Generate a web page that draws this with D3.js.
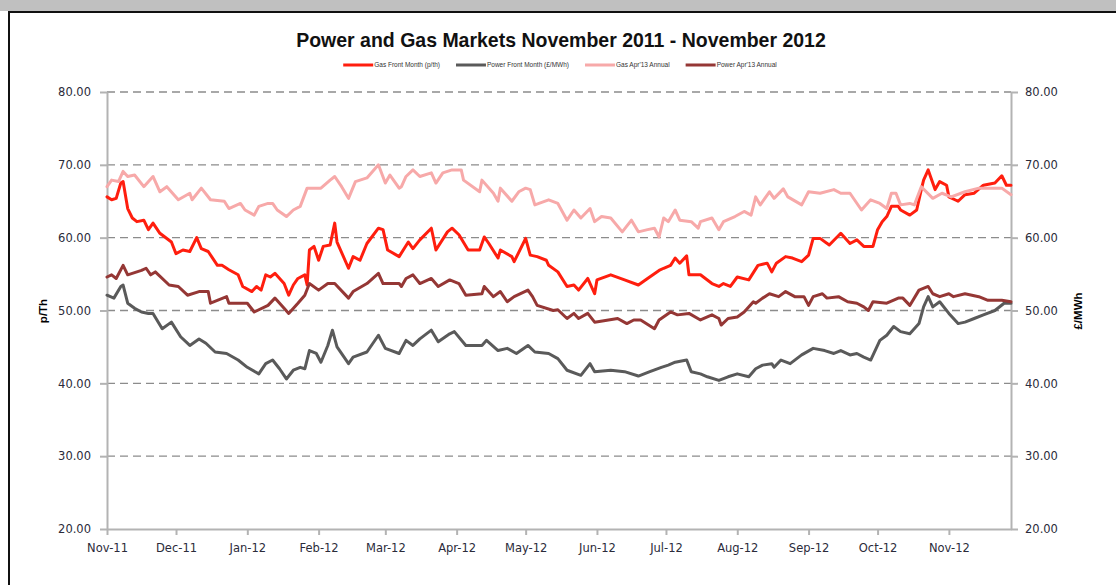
<!DOCTYPE html>
<html>
<head>
<meta charset="utf-8">
<script src="https://cdn.jsdelivr.net/npm/d3@7/dist/d3.min.js"></script>
<style>
    body { margin: 0; background: #fff; }
    svg { display: block; }
    .axis path, .axis line { stroke: #b3b3b3; stroke-width: 2; }
    .axis text { font-family: 'DejaVu Sans', Verdana, sans-serif; font-size: 11.5px; fill: #2b2b3a; }
    .grid line { stroke: #8c8c8c; stroke-width: 1.3; stroke-dasharray: 8 5; }
    .line { fill: none; stroke-width: 3; stroke-linejoin: round; stroke-linecap: round; }
</style>
</head>
<body>
<div id="chart"></div>
<script>
// values: [date, value]
const gasFrontMonth = [
    ['2011-11-01', 65.6], ['2011-11-03', 65.2], ['2011-11-05', 65.4], ['2011-11-07', 67.5], ['2011-11-08', 67.7],
    ['2011-11-10', 64.0], ['2011-11-12', 62.7], ['2011-11-14', 62.2], ['2011-11-17', 62.4], ['2011-11-19', 61.1],
    ['2011-11-21', 62.0], ['2011-11-24', 60.6], ['2011-11-29', 59.4], ['2011-12-01', 57.8], ['2011-12-04', 58.3],
    ['2011-12-07', 58.1], ['2011-12-10', 60.0], ['2011-12-12', 58.5], ['2011-12-15', 58.1], ['2011-12-19', 56.2],
    ['2011-12-21', 56.2], ['2011-12-24', 55.6], ['2011-12-28', 54.9], ['2011-12-30', 53.3], ['2012-01-03', 52.6],
    ['2012-01-05', 53.3], ['2012-01-07', 52.8], ['2012-01-09', 54.9], ['2012-01-11', 54.6], ['2012-01-13', 55.1],
    ['2012-01-17', 53.7], ['2012-01-19', 52.1], ['2012-01-21', 53.5], ['2012-01-23', 54.4], ['2012-01-26', 54.9],
    ['2012-01-27', 53.5], ['2012-01-28', 58.3], ['2012-01-30', 58.8], ['2012-02-01', 56.9], ['2012-02-03', 58.8],
    ['2012-02-06', 59.0], ['2012-02-08', 62.0], ['2012-02-09', 59.4], ['2012-02-14', 55.8], ['2012-02-16', 57.4],
    ['2012-02-19', 56.9], ['2012-02-22', 59.2], ['2012-02-27', 61.3], ['2012-02-29', 61.1], ['2012-03-02', 58.3],
    ['2012-03-07', 57.4], ['2012-03-11', 59.4], ['2012-03-13', 58.5], ['2012-03-16', 59.7], ['2012-03-21', 61.3],
    ['2012-03-23', 58.3], ['2012-03-28', 60.8], ['2012-03-30', 61.3], ['2012-04-02', 60.4], ['2012-04-06', 58.3],
    ['2012-04-11', 58.3], ['2012-04-13', 60.1], ['2012-04-15', 59.2], ['2012-04-19', 57.2], ['2012-04-20', 58.3],
    ['2012-04-25', 57.4], ['2012-04-26', 56.7], ['2012-05-01', 59.9], ['2012-05-03', 57.6], ['2012-05-06', 57.4],
    ['2012-05-10', 56.9], ['2012-05-11', 56.2], ['2012-05-15', 55.3], ['2012-05-19', 53.3], ['2012-05-22', 53.5],
    ['2012-05-24', 52.8], ['2012-05-28', 54.4], ['2012-05-31', 52.3], ['2012-06-01', 54.2], ['2012-06-07', 54.9],
    ['2012-06-13', 54.2], ['2012-06-19', 53.5], ['2012-06-23', 54.4], ['2012-06-28', 55.5], ['2012-06-30', 55.8],
    ['2012-07-03', 56.2], ['2012-07-05', 57.2], ['2012-07-07', 56.5], ['2012-07-10', 57.5], ['2012-07-11', 54.9],
    ['2012-07-16', 54.9], ['2012-07-21', 53.7], ['2012-07-24', 53.3], ['2012-07-26', 53.7], ['2012-07-29', 53.3],
    ['2012-08-01', 54.6], ['2012-08-06', 54.2], ['2012-08-10', 56.2], ['2012-08-14', 56.5], ['2012-08-16', 55.3],
    ['2012-08-18', 56.5], ['2012-08-22', 57.4], ['2012-08-25', 57.2], ['2012-08-29', 56.7], ['2012-09-01', 57.6],
    ['2012-09-03', 59.9], ['2012-09-06', 59.9], ['2012-09-10', 59.0], ['2012-09-15', 60.6], ['2012-09-19', 59.2],
    ['2012-09-22', 59.7], ['2012-09-25', 58.8], ['2012-09-29', 58.8], ['2012-10-01', 61.1], ['2012-10-03', 62.2],
    ['2012-10-05', 62.9], ['2012-10-07', 64.3], ['2012-10-10', 64.3], ['2012-10-11', 63.8], ['2012-10-15', 63.1],
    ['2012-10-18', 63.8], ['2012-10-20', 66.6], ['2012-10-21', 67.9], ['2012-10-23', 69.3], ['2012-10-25', 67.5],
    ['2012-10-26', 66.6], ['2012-10-28', 67.7], ['2012-10-31', 67.2], ['2012-11-01', 65.6], ['2012-11-05', 65.0],
    ['2012-11-08', 65.9], ['2012-11-12', 66.1], ['2012-11-16', 67.2], ['2012-11-21', 67.5], ['2012-11-24', 68.5],
    ['2012-11-26', 67.2], ['2012-11-28', 67.2]
];

const powerFrontMonth = [
    ['2011-11-01', 52.1], ['2011-11-04', 51.7], ['2011-11-07', 53.3], ['2011-11-08', 53.5], ['2011-11-10', 51.0],
    ['2011-11-13', 50.3], ['2011-11-16', 49.8], ['2011-11-19', 49.6], ['2011-11-21', 49.6], ['2011-11-25', 47.5],
    ['2011-11-29', 48.4], ['2011-12-03', 46.4], ['2011-12-07', 45.2], ['2011-12-11', 46.1], ['2011-12-14', 45.5],
    ['2011-12-18', 44.3], ['2011-12-23', 44.1], ['2011-12-28', 43.2], ['2012-01-01', 42.2], ['2012-01-06', 41.3],
    ['2012-01-09', 42.7], ['2012-01-12', 43.2], ['2012-01-15', 42.0], ['2012-01-18', 40.6], ['2012-01-21', 41.8],
    ['2012-01-24', 42.2], ['2012-01-26', 42.0], ['2012-01-28', 44.5], ['2012-01-31', 44.1], ['2012-02-02', 42.9],
    ['2012-02-05', 45.2], ['2012-02-07', 47.3], ['2012-02-09', 45.0], ['2012-02-14', 42.7], ['2012-02-16', 43.6],
    ['2012-02-22', 44.3], ['2012-02-27', 46.6], ['2012-03-01', 44.8], ['2012-03-07', 44.1], ['2012-03-10', 45.9],
    ['2012-03-13', 45.2], ['2012-03-16', 46.1], ['2012-03-21', 47.3], ['2012-03-24', 45.7], ['2012-03-29', 46.8],
    ['2012-03-31', 47.1], ['2012-04-05', 45.2], ['2012-04-12', 45.2], ['2012-04-14', 45.9], ['2012-04-19', 44.5],
    ['2012-04-23', 44.8], ['2012-04-27', 44.1], ['2012-05-02', 45.2], ['2012-05-05', 44.3], ['2012-05-11', 44.1],
    ['2012-05-15', 43.4], ['2012-05-19', 41.8], ['2012-05-25', 41.1], ['2012-05-29', 42.7], ['2012-05-31', 41.6],
    ['2012-06-07', 41.8], ['2012-06-13', 41.6], ['2012-06-19', 41.0], ['2012-06-24', 41.6], ['2012-06-29', 42.2],
    ['2012-07-02', 42.5], ['2012-07-05', 42.9], ['2012-07-10', 43.2], ['2012-07-12', 41.6], ['2012-07-16', 41.3],
    ['2012-07-19', 40.9], ['2012-07-24', 40.4], ['2012-07-28', 40.9], ['2012-08-01', 41.3], ['2012-08-06', 40.9],
    ['2012-08-09', 42.0], ['2012-08-12', 42.5], ['2012-08-16', 42.7], ['2012-08-17', 42.2], ['2012-08-20', 43.2],
    ['2012-08-24', 42.7], ['2012-08-29', 43.9], ['2012-09-03', 44.8], ['2012-09-08', 44.5], ['2012-09-12', 44.1],
    ['2012-09-15', 44.5], ['2012-09-19', 43.9], ['2012-09-22', 44.1], ['2012-09-25', 43.6], ['2012-09-28', 43.2],
    ['2012-10-02', 45.9], ['2012-10-05', 46.6], ['2012-10-08', 47.8], ['2012-10-11', 47.1], ['2012-10-15', 46.8],
    ['2012-10-19', 48.2], ['2012-10-21', 50.5], ['2012-10-23', 51.9], ['2012-10-25', 50.5], ['2012-10-28', 51.2],
    ['2012-11-01', 49.6], ['2012-11-05', 48.2], ['2012-11-08', 48.4], ['2012-11-12', 48.9], ['2012-11-16', 49.4],
    ['2012-11-21', 50.0], ['2012-11-25', 51.0], ['2012-11-28', 51.0]
];

const gasAnnual = [
    ['2011-11-01', 67.0], ['2011-11-03', 67.9], ['2011-11-06', 67.7], ['2011-11-08', 69.1], ['2011-11-10', 68.4],
    ['2011-11-13', 68.6], ['2011-11-17', 67.0], ['2011-11-21', 68.4], ['2011-11-24', 66.3], ['2011-11-27', 67.0],
    ['2011-12-02', 65.2], ['2011-12-07', 66.1], ['2011-12-08', 65.2], ['2011-12-12', 66.8], ['2011-12-16', 65.2],
    ['2011-12-22', 65.0], ['2011-12-24', 64.0], ['2011-12-29', 64.7], ['2011-12-31', 63.8], ['2012-01-04', 63.1],
    ['2012-01-06', 64.3], ['2012-01-10', 64.7], ['2012-01-12', 64.7], ['2012-01-14', 63.8], ['2012-01-18', 62.9],
    ['2012-01-21', 63.8], ['2012-01-24', 64.3], ['2012-01-27', 66.8], ['2012-02-02', 66.8], ['2012-02-06', 67.9],
    ['2012-02-08', 68.4], ['2012-02-11', 67.0], ['2012-02-14', 65.4], ['2012-02-17', 67.7], ['2012-02-22', 68.2],
    ['2012-02-27', 70.0], ['2012-03-01', 67.5], ['2012-03-03', 68.6], ['2012-03-07', 66.8], ['2012-03-08', 67.0],
    ['2012-03-10', 68.4], ['2012-03-13', 69.3], ['2012-03-16', 68.4], ['2012-03-21', 68.9], ['2012-03-23', 67.5],
    ['2012-03-26', 68.9], ['2012-03-30', 69.3], ['2012-04-03', 69.3], ['2012-04-04', 67.9], ['2012-04-11', 66.3],
    ['2012-04-12', 67.9], ['2012-04-17', 66.1], ['2012-04-19', 65.0], ['2012-04-20', 66.8], ['2012-04-25', 65.0],
    ['2012-04-28', 66.3], ['2012-05-01', 66.8], ['2012-05-03', 66.6], ['2012-05-05', 64.5], ['2012-05-11', 65.2],
    ['2012-05-15', 64.7], ['2012-05-19', 62.4], ['2012-05-22', 63.8], ['2012-05-25', 62.7], ['2012-05-29', 64.0],
    ['2012-05-31', 62.2], ['2012-06-03', 62.9], ['2012-06-07', 62.7], ['2012-06-12', 60.8], ['2012-06-16', 62.4],
    ['2012-06-19', 60.8], ['2012-06-23', 61.1], ['2012-06-26', 61.3], ['2012-06-28', 60.1], ['2012-06-30', 62.7],
    ['2012-07-02', 62.2], ['2012-07-05', 63.8], ['2012-07-07', 62.4], ['2012-07-12', 62.2], ['2012-07-15', 61.3],
    ['2012-07-16', 62.2], ['2012-07-21', 62.7], ['2012-07-24', 61.1], ['2012-07-26', 62.2], ['2012-07-31', 62.9],
    ['2012-08-04', 63.6], ['2012-08-07', 63.1], ['2012-08-09', 65.6], ['2012-08-11', 64.5], ['2012-08-15', 66.3],
    ['2012-08-17', 65.4], ['2012-08-21', 66.7], ['2012-08-23', 65.6], ['2012-08-29', 64.5], ['2012-09-01', 66.3],
    ['2012-09-06', 66.1], ['2012-09-12', 66.6], ['2012-09-15', 66.1], ['2012-09-19', 66.1], ['2012-09-24', 63.8],
    ['2012-09-28', 65.2], ['2012-10-02', 64.7], ['2012-10-05', 64.0], ['2012-10-07', 66.1], ['2012-10-09', 66.1],
    ['2012-10-11', 64.5], ['2012-10-15', 64.7], ['2012-10-17', 64.5], ['2012-10-20', 67.0], ['2012-10-25', 65.4],
    ['2012-10-29', 66.1], ['2012-11-02', 65.6], ['2012-11-08', 66.3], ['2012-11-14', 66.8], ['2012-11-18', 66.8],
    ['2012-11-24', 66.8], ['2012-11-28', 65.9]
];

const powerAnnual = [
    ['2011-11-01', 54.6], ['2011-11-03', 54.9], ['2011-11-05', 54.4], ['2011-11-08', 56.2], ['2011-11-10', 54.9],
    ['2011-11-16', 55.5], ['2011-11-18', 55.8], ['2011-11-20', 54.9], ['2011-11-22', 55.3], ['2011-11-28', 53.5],
    ['2011-12-02', 53.3], ['2011-12-06', 52.1], ['2011-12-11', 52.6], ['2011-12-15', 52.6], ['2011-12-16', 51.0],
    ['2011-12-23', 51.9], ['2011-12-24', 51.0], ['2012-01-01', 51.0], ['2012-01-04', 49.8], ['2012-01-10', 50.7],
    ['2012-01-13', 51.7], ['2012-01-17', 50.3], ['2012-01-19', 49.6], ['2012-01-23', 51.0], ['2012-01-26', 52.1],
    ['2012-01-28', 53.7], ['2012-02-01', 52.8], ['2012-02-05', 53.7], ['2012-02-08', 53.7], ['2012-02-14', 51.7],
    ['2012-02-16', 52.6], ['2012-02-22', 53.7], ['2012-02-27', 55.1], ['2012-02-29', 53.7], ['2012-03-07', 53.7],
    ['2012-03-08', 53.3], ['2012-03-10', 54.4], ['2012-03-13', 54.9], ['2012-03-16', 53.7], ['2012-03-21', 54.4],
    ['2012-03-24', 53.3], ['2012-03-29', 54.2], ['2012-04-02', 53.7], ['2012-04-05', 52.1], ['2012-04-12', 52.3],
    ['2012-04-13', 53.3], ['2012-04-17', 51.9], ['2012-04-20', 52.6], ['2012-04-23', 51.2], ['2012-04-26', 51.9],
    ['2012-05-02', 52.8], ['2012-05-04', 51.9], ['2012-05-06', 50.7], ['2012-05-13', 50.0], ['2012-05-15', 50.1],
    ['2012-05-19', 48.9], ['2012-05-22', 49.6], ['2012-05-24', 48.9], ['2012-05-28', 49.6], ['2012-05-31', 48.4],
    ['2012-06-06', 48.7], ['2012-06-10', 48.9], ['2012-06-14', 48.2], ['2012-06-17', 48.7], ['2012-06-20', 48.7],
    ['2012-06-26', 47.5], ['2012-06-28', 48.7], ['2012-07-03', 49.8], ['2012-07-06', 49.4], ['2012-07-11', 49.6],
    ['2012-07-16', 48.7], ['2012-07-21', 49.4], ['2012-07-24', 48.9], ['2012-07-25', 48.0], ['2012-07-28', 48.9],
    ['2012-08-01', 49.1], ['2012-08-04', 49.8], ['2012-08-08', 51.2], ['2012-08-09', 51.0], ['2012-08-12', 51.7],
    ['2012-08-15', 52.3], ['2012-08-19', 51.9], ['2012-08-22', 52.6], ['2012-08-26', 51.9], ['2012-08-30', 51.9],
    ['2012-09-01', 50.7], ['2012-09-03', 51.9], ['2012-09-07', 52.3], ['2012-09-09', 51.7], ['2012-09-14', 51.9],
    ['2012-09-18', 51.2], ['2012-09-22', 51.0], ['2012-09-25', 50.5], ['2012-09-27', 50.0], ['2012-09-29', 51.2],
    ['2012-10-05', 51.0], ['2012-10-10', 51.7], ['2012-10-12', 51.7], ['2012-10-15', 50.7], ['2012-10-19', 52.8],
    ['2012-10-23', 53.3], ['2012-10-25', 52.3], ['2012-10-28', 51.9], ['2012-11-01', 52.3], ['2012-11-03', 51.9],
    ['2012-11-08', 52.3], ['2012-11-14', 51.9], ['2012-11-18', 51.4], ['2012-11-24', 51.4], ['2012-11-28', 51.2]
];

const seriesNames = ['Gas Front Month (p/th)', 'Power Front Month (£/MWh)', "Gas Apr'13 Annual", "Power Apr'13 Annual"];
const seriesColors = ['#ff1e0e', '#5a5a5a', '#f7a9a9', '#953735'];
const monthTicks = ['2011-11-01', '2011-12-01', '2012-01-01', '2012-02-01', '2012-03-01', '2012-04-01', '2012-05-01',
    '2012-06-01', '2012-07-01', '2012-08-01', '2012-09-01', '2012-10-01', '2012-11-01'];
const monthLabels = ['Nov-11', 'Dec-11', 'Jan-12', 'Feb-12', 'Mar-12', 'Apr-12', 'May-12', 'Jun-12', 'Jul-12',
    'Aug-12', 'Sep-12', 'Oct-12', 'Nov-12'];
const valueTicks = [20, 30, 40, 50, 60, 70, 80];

const width = 1116, height = 585;
const margin = { left: 107, right: 105, top: 92, bottom: 56 };
const parseDate = d3.timeParse('%Y-%m-%d');

const svg = d3.select('#chart').append('svg')
    .attr('width', width)
    .attr('height', height);

// --- frame
svg.append('rect').attr('x', 0).attr('y', 0).attr('width', width).attr('height', 11).attr('fill', '#c0c0c0');
svg.append('line').attr('x1', 9).attr('x2', width).attr('y1', 12).attr('y2', 12).attr('stroke', '#111').attr('stroke-width', 2);
svg.append('line').attr('x1', 9).attr('x2', 9).attr('y1', 11).attr('y2', height).attr('stroke', '#111').attr('stroke-width', 2);

const x = d3.scaleTime()
    .domain([parseDate('2011-11-01'), parseDate('2012-11-28')])
    .range([margin.left, width - margin.right]);
const y = d3.scaleLinear()
    .domain([20, 80])
    .range([height - margin.bottom, margin.top]);

// --- grid
svg.append('g').attr('class', 'grid')
    .selectAll('line')
    .data(valueTicks.filter(v => v !== 20))
    .join('line')
    .attr('x1', x.range()[0]).attr('x2', x.range()[1])
    .attr('y1', d => y(d)).attr('y2', d => y(d));

// --- axes
const fmt = d3.format('.2f');
svg.append('g').attr('class', 'axis')
    .attr('transform', `translate(${x.range()[0]},0)`)
    .call(d3.axisLeft(y).tickValues(valueTicks).tickFormat(fmt).tickSize(7).tickSizeOuter(0).tickPadding(9));
svg.append('g').attr('class', 'axis')
    .attr('transform', `translate(${x.range()[1]},0)`)
    .call(d3.axisRight(y).tickValues(valueTicks).tickFormat(fmt).tickSize(7).tickSizeOuter(0).tickPadding(7));
svg.append('g').attr('class', 'axis x')
    .attr('transform', `translate(0,${y(20)})`)
    .call(d3.axisBottom(x).tickValues(monthTicks.map(parseDate)).tickFormat((_, i) => monthLabels[i])
        .tickSize(6).tickSizeOuter(0).tickPadding(9));

// --- lines
const line = d3.line()
    .x(d => x(parseDate(d[0])))
    .y(d => y(d[1]));
[gasFrontMonth, powerFrontMonth, gasAnnual, powerAnnual].forEach((series, i) => {
    svg.append('path')
        .datum(series)
        .attr('class', 'line')
        .attr('stroke', seriesColors[i])
        .attr('d', line);
});

// --- title
const title = svg.append('text')
    .attr('x', 561).attr('y', 47)
    .attr('text-anchor', 'middle')
    .attr('font-family', "'Liberation Sans', Arial, sans-serif")
    .attr('font-weight', 'bold')
    .attr('font-size', 17)
    .attr('fill', '#111')
    .text('Power and Gas Markets November 2011 - November 2012');
const tw = title.node().getComputedTextLength();
title.attr('font-size', 17 * 530 / tw);

// --- axis titles
svg.append('text')
    .attr('transform', `translate(47,311) rotate(-90)`)
    .attr('text-anchor', 'middle')
    .attr('font-family', "'Liberation Sans', Arial, sans-serif")
    .attr('font-weight', 'bold').attr('font-size', 11.5)
    .text('p/Th');
svg.append('text')
    .attr('transform', `translate(1082,311) rotate(-90)`)
    .attr('text-anchor', 'middle')
    .attr('font-family', "'Liberation Sans', Arial, sans-serif")
    .attr('font-weight', 'bold').attr('font-size', 11.5)
    .text('£/MWh');

// --- legend
const legend = svg.append('g').attr('transform', 'translate(0,65)');
const items = legend.selectAll('g').data(seriesNames).join('g');
items.append('line')
    .attr('x1', 0).attr('x2', 30).attr('y1', 0).attr('y2', 0)
    .attr('stroke', (_, i) => seriesColors[i]).attr('stroke-width', 3);
items.append('text')
    .attr('x', 31).attr('y', 2)
    .attr('font-family', "'Liberation Sans', Arial, sans-serif")
    .attr('font-size', 6.5).attr('fill', '#333')
    .text(d => d);
const gap = 16;
const widths = items.nodes().map(n => 31 + d3.select(n).select('text').node().getComputedTextLength());
const total = d3.sum(widths) + gap * (widths.length - 1);
let cx = 560 - total / 2;
items.attr('transform', (_, i) => {
    const t = `translate(${cx},0)`;
    cx += widths[i] + gap;
    return t;
});
</script>
</body>
</html>
